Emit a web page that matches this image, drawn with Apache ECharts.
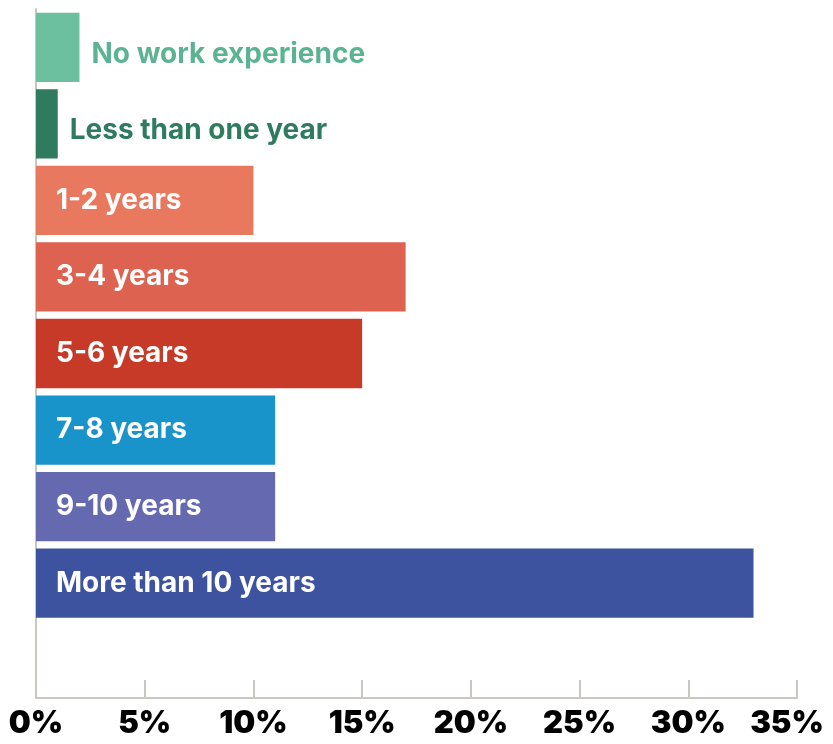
<!DOCTYPE html>
<html>
<head>
<meta charset="utf-8">
<style>
  html, body { margin: 0; padding: 0; background: #ffffff; }
  #chart { width: 833px; height: 744px; }
</style>
<script src="https://cdn.jsdelivr.net/npm/echarts@6/dist/echarts.min.js"></script>
</head>
<body>
<div id="chart"></div>
<script>
// Years of work experience, share of respondents (%)
const categories = [
  'No work experience',
  'Less than one year',
  '1-2 years',
  '3-4 years',
  '5-6 years',
  '7-8 years',
  '9-10 years',
  'More than 10 years'
];
const shares = [2, 1, 10, 17, 15, 11, 11, 33];
const tickValues = [0, 5, 10, 15, 20, 25, 30, 35];

// Bar fills and label styling
const barColors = ['#6cc0a0', '#2e7b60', '#e8795f', '#dd6350', '#c83a28', '#1994ca', '#6569b0', '#3d53a0'];
const outsideLabelColors = ['#5bb394', '#2e7b60'];
const FONT = 'Inter, "Noto Sans", sans-serif';
const AXIS_GREY = '#cbc7c0';

// Short bars carry their label outside, the rest inside
const seriesData = shares.map((v, i) => {
  const outside = v < 5;
  return {
    value: v,
    itemStyle: { color: barColors[i] },
    label: outside ? {
      position: 'right',
      distance: 12,
      offset: [0, 7],
      color: outsideLabelColors[i]
    } : {
      position: 'insideLeft',
      distance: 20,
      color: '#ffffff'
    }
  };
});

const chart = echarts.init(document.getElementById('chart'), null, { renderer: 'canvas' });
chart.setOption({
  animation: false,
  grid: { left: 36, right: 36, top: 9, bottom: 46, containLabel: false },
  xAxis: {
    type: 'value',
    min: tickValues[0],
    max: tickValues[tickValues.length - 1],
    interval: 5,
    splitLine: { show: false },
    axisLine: { show: true, lineStyle: { color: AXIS_GREY, width: 2 } },
    axisTick: { show: true, inside: true, length: 18, lineStyle: { color: AXIS_GREY, width: 2 } },
    axisLabel: {
      margin: 10,
      color: '#000000',
      fontFamily: FONT,
      fontWeight: 900,
      fontSize: 31,
      formatter: function (v) {
        const txt = v + '%';
        return v === tickValues[tickValues.length - 1] ? '{last|' + txt + '}' : txt;
      },
      rich: {
        last: {
          color: '#000000',
          fontFamily: FONT,
          fontWeight: 900,
          fontSize: 31,
          padding: [0, 20, 0, 0]
        }
      }
    }
  },
  yAxis: {
    type: 'category',
    inverse: true,
    offset: 1.5,
    data: categories.concat(['']),
    axisLine: { show: true, lineStyle: { color: AXIS_GREY, width: 2 } },
    axisTick: { show: false },
    axisLabel: { show: false },
    splitLine: { show: false }
  },
  series: [{
    type: 'bar',
    barCategoryGap: '9.5%',
    data: seriesData,
    label: {
      show: true,
      formatter: function (p) { return categories[p.dataIndex]; },
      fontFamily: FONT,
      fontWeight: 'bold',
      fontSize: 28
    }
  }]
});
</script>
</body>
</html>
